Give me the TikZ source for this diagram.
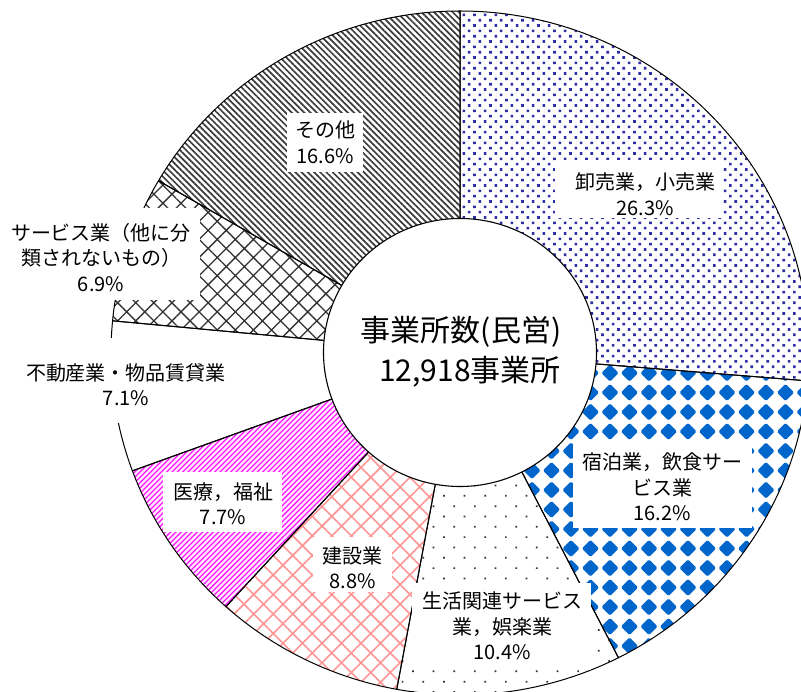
\documentclass[tikz,border=0pt]{standalone}
\usepackage{fontspec}
\setmainfont{Noto Sans CJK JP}
\usetikzlibrary{patterns.meta}
\definecolor{bluedot}{RGB}{45,45,165}
\definecolor{diamc}{RGB}{0,102,204}
\definecolor{sparsedot}{RGB}{50,50,50}
\definecolor{pinkhatch}{RGB}{255,150,150}
\definecolor{magstripe}{RGB}{255,20,255}
\definecolor{magbg}{RGB}{255,235,255}
\definecolor{blackhatch}{RGB}{50,50,50}
\definecolor{graystripe}{RGB}{60,60,60}
\tikzset{
  sA/.style={pattern={Dots[radius=1.85pt,distance=7.54pt,angle=45]},pattern color=bluedot},
  sC/.style={pattern={Dots[radius=1.2pt,distance=14.6pt,angle=45]},pattern color=sparsedot},
  sD/.style={pattern={Hatch[distance=13.8pt,angle=45,line width=1.6pt]},pattern color=pinkhatch},
  sE/.style={pattern={Lines[distance=3.77pt,angle=45,line width=1.25pt]},pattern color=magstripe},
  sG/.style={pattern={Hatch[distance=12.8pt,angle=45,line width=1.3pt]},pattern color=blackhatch},
  sH/.style={pattern={Lines[distance=4.4pt,angle=-45,line width=1.7pt]},pattern color=graystripe},
  lbl/.style={align=center,inner sep=0pt,font=\fontsize{20pt}{25.5pt}\selectfont},
  ctr/.style={inner sep=0pt,font=\fontsize{30pt}{36pt}\selectfont},
  outline/.style={draw=black,line width=1pt},
}
\begin{document}
\begin{tikzpicture}[x=1pt,y=1pt]
\useasboundingbox (0,0) rectangle (801,692);
\fill[white] (0,0) rectangle (801,692);
\coordinate (C) at (460,339);
% backgrounds
\fill[magbg] (C) -- ++(-132.12:349pt and 342pt) arc[start angle=-132.12,end angle=-159.84,x radius=349pt,y radius=342pt] -- cycle;
% pattern fills
\foreach \a/\b/\s in {90/-4.68/sA,-63/-100.44/sC,-100.44/-132.12/sD,-132.12/-159.84/sE,-185.4/-210.24/sG,-210.24/-270/sH}{
  \path[\s] (C) -- ++(\a:349pt and 342pt) arc[start angle=\a,end angle=\b,x radius=349pt,y radius=342pt] -- cycle;
}
% diamonds
\begin{scope}
\clip (C) -- ++(-4.68:349pt and 342pt) arc[start angle=-4.68,end angle=-63,x radius=349pt,y radius=342pt] -- cycle;
\foreach \i in {-6,...,11}{
  \foreach \j in {-2,...,17}{
    \fill[diamc,rounded corners=1.5pt] ({610+19.5*\i},{319-19.5*\j+8.6}) -- ++(8.6,-8.6) -- ++(-8.6,-8.6) -- ++(-8.6,8.6) -- cycle;
  }
}
\end{scope}
% outlines
\foreach \a/\b in {90/-4.68,-4.68/-63,-63/-100.44,-100.44/-132.12,-132.12/-159.84,-159.84/-185.4,-185.4/-210.24,-210.24/-270}{
  \path[outline] (C) -- ++(\a:349pt and 342pt) arc[start angle=\a,end angle=\b,x radius=349pt,y radius=342pt] -- cycle;
}
% hole
\draw[fill=white,line width=1.1pt] (460,339.5) ellipse [x radius=136.5pt,y radius=134pt];
% label boxes
\fill[white] (555,474) rectangle (723,532);
\fill[white] (573,164) rectangle (752,250);
\fill[white] (412,22) rectangle (591,109);
\fill[white] (313,100) rectangle (392,155);
\fill[white] (163,160) rectangle (282,220);
\fill[white] (15,269) rectangle (237,354);
\fill[white] (2,392) rectangle (200,484);
\fill[white] (287,520) rectangle (363,579);
% labels
\node[lbl] (l1) at (645,498) {卸売業，小売業\\26.3\%};
\node[lbl] (l2) at (662,205) {宿泊業，飲食サー\\ビス業\\16.2\%};
\node[lbl] (l3) at (502,66) {生活関連サービス\\業，娯楽業\\10.4\%};
\node[lbl] (l4) at (352.5,124.5) {建設業\\8.8\%};
\node[lbl] (l5) at (223,188.5) {医療，福祉\\7.7\%};
\node[lbl] (l6) at (126,307.5) {不動産業・物品賃貸業\\7.1\%};
\node[lbl] (l7) at (101,434.5) {サービス業（他に分\\類されないもの）\\6.9\%};
\node[lbl] (l8) at (325,549.5) {その他\\16.6\%};
% centre
\node[ctr] (c1) at (461,360) {事業所数(民営)};
\node[ctr] (c2) at (470,320) {12,918事業所};
\end{tikzpicture}
\end{document}
